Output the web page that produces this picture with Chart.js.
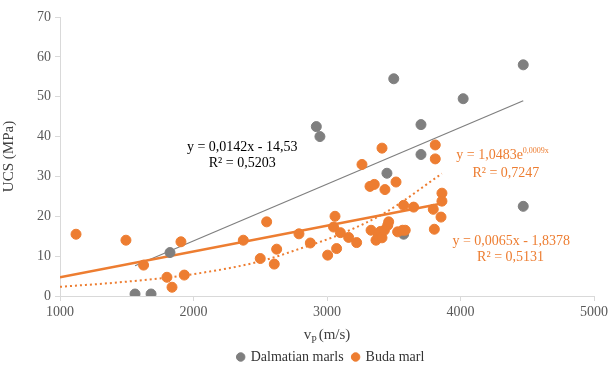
<!DOCTYPE html>
<html>
<head>
<meta charset="utf-8">
<script src="https://cdn.jsdelivr.net/npm/chart.js@4.4.0/dist/chart.umd.min.js"></script>
<style>
  html, body { margin: 0; padding: 0; background: #fff; }
  #wrap { width: 611px; height: 374px; }
</style>
</head>
<body>
<div id="wrap"><canvas id="chart"></canvas></div>
<script>
// Dalmatian marls (gris)
const dalX = [1562, 1682, 1824, 2920, 2947, 3449, 3500, 3574, 3704, 3704, 4020, 4470, 4470];
const dalY = [0.5, 0.5, 10.9, 42.5, 40, 30.8, 54.5, 15.5, 43, 35.5, 49.5, 58, 22.5];

// Buda marl (naranja)
const budaX = [1120, 1494, 1626, 1801, 1839, 1906, 1931, 2373, 2500, 2548, 2605, 2623, 2790, 2875,
  3005, 3049, 3060, 3072, 3100, 3162, 3222, 3262, 3322, 3330, 3354, 3367, 3385, 3400, 3412, 3412,
  3430, 3434, 3455, 3462, 3517, 3529, 3566, 3574, 3586, 3649, 3796, 3804, 3811, 3811, 3854, 3861, 3861];
const budaY = [15.5, 14, 7.75, 4.7, 2.2, 13.6, 5.25, 14, 9.4, 18.6, 8, 11.75, 15.6, 13.3,
  10.25, 17.3, 20, 11.9, 15.9, 14.7, 13.4, 33, 27.5, 16.5, 28, 14, 15, 16.2, 14.6, 37.1,
  16.5, 26.7, 17.75, 18.6, 28.6, 16.1, 16.5, 22.75, 16.5, 22.3, 21.75, 16.75, 37.9, 34.4, 19.8, 25.8, 23.8];

// Líneas de tendencia
const dalTrendX = [1562, 4470];
const dalTrendY = [7.6, 49];
const budaLinX = [1000, 3861];
const budaLinY = [4.7, 23.2];
const budaExpX = [1000, 1500, 2000, 2500, 2800, 3100, 3440, 3860];
const budaExpY = [2.3, 3.6, 5.5, 8.7, 11.9, 15.5, 21, 30.7];

const xTicks = [1000, 2000, 3000, 4000, 5000];
const yTicks = [0, 10, 20, 30, 40, 50, 60, 70];

const GRAY = '#7f7f7f';
const ORANGE = '#ed7d31';
const SERIF = 'Liberation Serif';

Chart.defaults.font.family = SERIF;

const pts = (xs, ys) => xs.map((x, i) => ({ x: x, y: ys[i] }));

// Textos de ecuaciones (posición en unidades de datos)
const eqLabels = [
  { text: 'y = 0,0142x - 14,53', x: 2365, y: 37.3, color: '#000' },
  { text: 'R² = 0,5203', x: 2365, y: 33.2, color: '#000' },
  { text: 'y = 1,0483e', sup: '0,0009x', x: 4315, y: 35.2, color: ORANGE },
  { text: 'R² = 0,7247', x: 4340, y: 30.8, color: ORANGE },
  { text: 'y = 0,0065x - 1,8378', x: 4380, y: 13.6, color: ORANGE },
  { text: 'R² = 0,5131', x: 4375, y: 9.8, color: ORANGE }
];

const extras = {
  id: 'extras',
  afterLayout(chart) {
    // desplazar la leyenda hacia el centro del área del gráfico
    const lg = chart.legend;
    lg.left += 34;
    lg.right += 34;
  },
  afterDatasetsDraw(chart) {
    const ctx = chart.ctx;
    const sx = chart.scales.x, sy = chart.scales.y;
    ctx.save();
    ctx.textBaseline = 'middle';
    eqLabels.forEach(l => {
      const px = sx.getPixelForValue(l.x);
      const py = sy.getPixelForValue(l.y);
      ctx.font = '14px ' + SERIF;
      ctx.fillStyle = l.color;
      if (l.sup) {
        const w1 = ctx.measureText(l.text).width;
        ctx.font = '8px ' + SERIF;
        const w2 = ctx.measureText(l.sup).width;
        const start = px - (w1 + w2) / 2;
        ctx.font = '14px ' + SERIF;
        ctx.textAlign = 'left';
        ctx.fillText(l.text, start, py);
        ctx.font = '8px ' + SERIF;
        ctx.fillText(l.sup, start + w1, py - 5);
      } else {
        ctx.textAlign = 'center';
        ctx.fillText(l.text, px, py);
      }
    });
    // título del eje x con subíndice
    const cx = (chart.chartArea.left + chart.chartArea.right) / 2;
    const ty = chart.chartArea.bottom + 39;
    ctx.fillStyle = '#404040';
    ctx.font = '15px ' + SERIF;
    const wv = ctx.measureText('v').width;
    const wr = ctx.measureText('(m/s)').width;
    ctx.font = '10px ' + SERIF;
    const wp = ctx.measureText('P').width;
    let x0 = cx - (wv + wp + 2 + wr) / 2;
    ctx.textAlign = 'left';
    ctx.font = '15px ' + SERIF;
    ctx.fillText('v', x0, ty);
    ctx.font = '10px ' + SERIF;
    ctx.fillText('P', x0 + wv, ty + 5);
    ctx.font = '15px ' + SERIF;
    ctx.fillText('(m/s)', x0 + wv + wp + 2, ty);
    ctx.restore();
  }
};

const ctx = document.getElementById('chart').getContext('2d');
const chart = new Chart(ctx, {
  type: 'scatter',
  data: {
    datasets: [
      {
        label: 'Dalmatian marls',
        data: pts(dalX, dalY),
        backgroundColor: GRAY,
        borderColor: GRAY,
        pointRadius: 5,
        pointHoverRadius: 5,
        order: 1
      },
      {
        label: 'Buda marl',
        data: pts(budaX, budaY),
        backgroundColor: ORANGE,
        borderColor: ORANGE,
        pointRadius: 5,
        pointHoverRadius: 5,
        order: 0
      },
      {
        label: 'trend-dal',
        data: pts(dalTrendX, dalTrendY),
        showLine: true,
        borderColor: GRAY,
        borderWidth: 1.2,
        pointRadius: 0,
        order: 3
      },
      {
        label: 'trend-buda-lin',
        data: pts(budaLinX, budaLinY),
        showLine: true,
        borderColor: ORANGE,
        borderWidth: 2.5,
        pointRadius: 0,
        order: 2
      },
      {
        label: 'trend-buda-exp',
        data: pts(budaExpX, budaExpY),
        showLine: true,
        borderColor: ORANGE,
        borderWidth: 2,
        borderDash: [2, 3],
        cubicInterpolationMode: 'monotone',
        pointRadius: 0,
        order: 2
      }
    ]
  },
  options: {
    responsive: true,
    maintainAspectRatio: false,
    animation: false,
    layout: { padding: { top: 17, right: 17, left: 0, bottom: 0 } },
    plugins: {
      tooltip: { enabled: false },
      legend: {
        position: 'bottom',
        labels: {
          filter: item => item.text.indexOf('trend') !== 0,
          sort: (a, b) => a.datasetIndex - b.datasetIndex,
          usePointStyle: true,
          pointStyle: 'circle',
          boxWidth: 6,
          boxHeight: 6,
          padding: 9,
          color: '#333',
          font: { family: SERIF, size: 14 }
        }
      }
    },
    scales: {
      x: {
        type: 'linear',
        min: 1000,
        max: 5000,
        afterBuildTicks: s => { s.ticks = xTicks.map(v => ({ value: v })); },
        ticks: {
          color: '#595959',
          font: { family: SERIF, size: 14 },
          padding: 3,
          callback: v => String(v)
        },
        grid: { drawOnChartArea: false, drawTicks: true, tickLength: 5, color: '#d9d9d9' },
        border: { color: '#d9d9d9' },
        afterFit: s => { s.height = 45; }
      },
      y: {
        type: 'linear',
        min: 0,
        max: 70,
        afterBuildTicks: s => { s.ticks = yTicks.map(v => ({ value: v })); },
        ticks: {
          color: '#595959',
          font: { family: SERIF, size: 14 },
          padding: 4,
          callback: v => String(v)
        },
        grid: { drawOnChartArea: false, drawTicks: true, tickLength: 5, color: '#d9d9d9' },
        border: { color: '#d9d9d9' },
        title: {
          display: true,
          text: 'UCS (MPa)',
          color: '#404040',
          font: { family: SERIF, size: 15 },
          padding: { top: 0, bottom: 2 }
        },
        afterFit: s => { s.width = 60; }
      }
    }
  },
  plugins: [extras]
});
</script>
</body>
</html>
